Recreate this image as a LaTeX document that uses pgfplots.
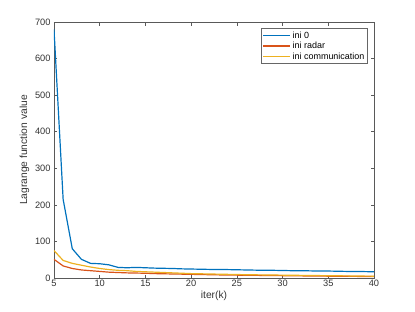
\documentclass[border=0pt]{standalone}
\usepackage{pgfplots}
\pgfplotsset{compat=1.18}
\usetikzlibrary{calc}
\usepackage{fontspec}
\setmainfont{Liberation Sans}
\definecolor{mblue}{rgb}{0,0.447,0.741}
\definecolor{morange}{rgb}{0.85,0.325,0.098}
\definecolor{myellow}{rgb}{0.929,0.694,0.125}
\begin{document}
\begin{tikzpicture}
\begin{axis}[
  scale only axis, width=320bp, height=256bp,
  xmin=5, xmax=40, ymin=0, ymax=700,
  xtick={5,10,...,40}, ytick={0,100,...,700},
  tick align=inside, tick pos=both,
  major tick length=3.5bp,
  axis line style={color=black!65, line width=0.5pt},
  every tick/.style={color=black!65, line width=0.5pt},
  tick label style={font=\fontsize{9.3}{10}\selectfont, color=black!80},
  xticklabel style={yshift=1bp},
  /pgf/number format/assume math mode=true,
  xlabel={iter(k)}, ylabel={Lagrange function value},
  label style={font=\fontsize{10.3}{11}\selectfont, color=black!80},
  xlabel style={yshift=3bp},
  ylabel style={yshift=-1bp},
  legend style={at={(0.98,0.975)}, anchor=north east, font=\fontsize{9}{10}\selectfont, draw=black!60, inner sep=1pt, row sep=-1.5pt},
  legend cell align=left,
  legend image code/.code={\draw[#1, line width=1.4pt] (0cm,0cm) -- (0.95cm,0cm);},
  every axis plot/.append style={line width=1.2pt},
]
\addplot[mblue] coordinates {(5,680)(6,215)(7,80)(8,51)(9,40)(10,39)(11,36)(12,29)(13,28)(14,29)(15,28)(16,27)(17,26.5)(18,26)(19,25)(20,24.5)(21,24)(22,23.5)(23,23)(24,23)(25,22.5)(26,22)(27,21.5)(28,21)(29,21)(30,20.5)(31,20)(32,20)(33,19.5)(34,19)(35,19)(36,18.5)(37,18)(38,18)(39,17.5)(40,17)};
\addlegendentry{ini 0}
\addplot[morange] coordinates {(5,51)(6,33)(7,26)(8,22)(9,20)(10,18)(11,16)(12,15)(13,14)(14,13.5)(15,13)(16,12)(17,11.5)(18,11)(19,10.5)(20,10)(21,9.5)(22,9)(23,8.5)(24,8)(25,7.8)(26,7.5)(27,7.2)(28,7)(29,6.7)(30,6.4)(31,6.1)(32,5.8)(33,5.5)(34,5.3)(35,5)(36,4.8)(37,4.6)(38,4.4)(39,4.2)(40,4)};
\addlegendentry{ini radar}
\addplot[myellow] coordinates {(5,75)(6,48)(7,40)(8,35)(9,30)(10,26)(11,23)(12,21)(13,20)(14,18)(15,17)(16,16)(17,15)(18,14)(19,13)(20,12)(21,11.5)(22,11)(23,10.5)(24,10)(25,9.5)(26,9)(27,8.7)(28,8.4)(29,8.1)(30,7.8)(31,7.5)(32,7.2)(33,6.9)(34,6.6)(35,6.3)(36,6)(37,5.8)(38,5.5)(39,5.2)(40,5)};
\addlegendentry{ini communication}
\end{axis}
\useasboundingbox ($(current axis.south west)+(-54bp,-34bp)$) rectangle ($(current axis.north east)+(41bp,22bp)$);
\end{tikzpicture}
\end{document}
